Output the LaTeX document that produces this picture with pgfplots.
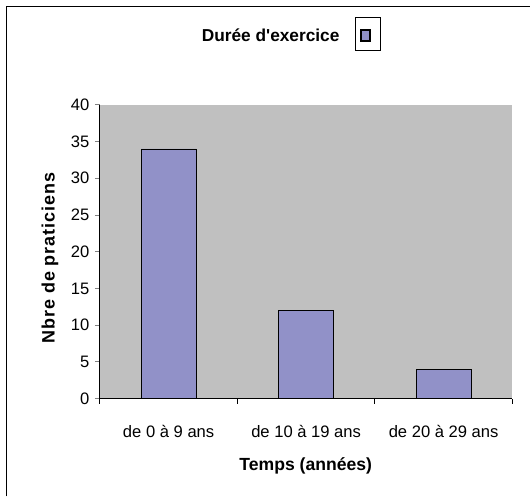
\documentclass[border=0pt]{standalone}
\usepackage{pgfplots}
\pgfplotsset{compat=1.18}
\usepackage{fontspec}
\setmainfont{Liberation Sans}
\definecolor{plotgrey}{RGB}{192,192,192}
\definecolor{barblue}{RGB}{145,145,200}
\begin{document}
\begin{tikzpicture}[x=1bp,y=1bp]
\begin{axis}[
  width=413bp, height=294bp, scale only axis,
  xmin=0, xmax=3, ymin=0, ymax=40,
  axis background/.style={fill=plotgrey},
  axis x line*=bottom, axis y line*=left,
  x axis line style={-}, y axis line style={-},
  axis line style={line width=0.8bp},
  ytick={0,5,...,40},
  xtick={0.5,1.5,2.5},
  xticklabels={de 0 à 9 ans, de 10 à 19 ans, de 20 à 29 ans},
  minor xtick={0,1,2,3},
  tick align=outside,
  ytick pos=left, xtick pos=bottom,
  x tick style={draw=none},
  minor x tick style={draw=black, line width=0.8bp},
  y tick style={line width=0.8bp},
  major tick length=5bp, minor tick length=5bp,
  /pgf/number format/assume math mode=true,
  tick label style={font=\fontsize{16.6bp}{19bp}\selectfont},
  xticklabel style={yshift=-18bp},
  yticklabel style={xshift=-2bp},
  xlabel={Temps (années)},
  ylabel={Nbre de praticiens},
  xlabel style={font=\bfseries\fontsize{17.6bp}{20bp}\selectfont, at={(axis description cs:0.499,-0.228)}, anchor=center},
  ylabel style={font=\bfseries\fontsize{18bp}{20bp}\selectfont\addfontfeatures{LetterSpace=5}, at={(axis description cs:-0.121,0.478)}, anchor=center},
  clip=false,
]
\addplot[ybar, bar width=55bp, fill=barblue, draw=black, line width=0.8bp] coordinates {(0.5,34) (1.5,12) (2.5,4)};
\coordinate (O) at (rel axis cs:0,0);
\end{axis}
\begin{scope}[shift={(O)}]
\path (-100,-98) rectangle (431,399);
\draw[line width=1.3bp] (-93.5,-98) -- (-93.5,392.5) -- (431,392.5);
\node[font=\bfseries\fontsize{17.3bp}{20bp}\selectfont] at (171,364) {Durée d\textquotesingle exercice};
\draw[line width=0.8bp, fill=white] (255.5,349) rectangle (280.5,381.5);
\draw[line width=1.2bp, fill=barblue] (261.5,358) rectangle (270.5,369);
\end{scope}
\end{tikzpicture}
\end{document}
